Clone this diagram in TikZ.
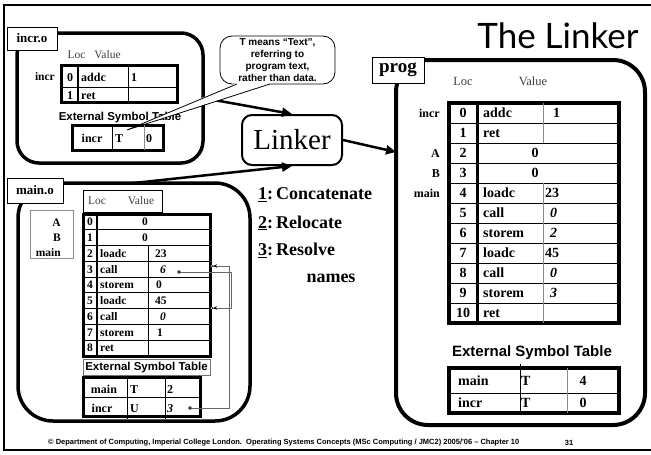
\documentclass[tikz,border=0pt]{standalone}
\usepackage{fontspec}
\setmainfont{Liberation Serif}
\newfontfamily\arialfont{Liberation Sans}
\newfontfamily\titlefont{Lato}
\usetikzlibrary{arrows.meta}

\tikzset{
  frameline/.style={line width=2.2pt},
  container/.style={draw, line width=3.5pt, inner sep=0pt, outer sep=0pt},
  tag/.style={draw, fill=white, line width=0.9pt, inner sep=0pt, outer sep=0pt,
    font=\bfseries\fontsize{13}{13}\selectfont},
  border/.style={line width=3pt},
  divider/.style={line width=2.4pt},
  rule/.style={line width=0.8pt},
  greyrule/.style={line width=0.8pt, draw=black!45},
  small/.style={inner sep=0pt, text height=7.6pt, text depth=0pt, font=\bfseries\fontsize{11.5}{11.5}\selectfont},
  mid/.style={inner sep=0pt, text height=8pt, text depth=0pt, font=\bfseries\fontsize{12}{12}\selectfont},
  big/.style={inner sep=0pt, text height=9.3pt, text depth=0pt, font=\bfseries\fontsize{14}{14}\selectfont},
  hdr/.style={inner sep=0pt, text height=7.6pt, text depth=0pt, text=black!75, font=\fontsize{11.5}{11.5}\selectfont},
  symhdr/.style={inner sep=0pt, font=\arialfont\bfseries\fontsize{#1}{#1}\selectfont},
  flow/.style={line width=2.5pt, arrows={-{Triangle[length=10pt,width=9pt]}}},
  link/.style={line width=0.8pt, draw=black!60,
    arrows={{Circle[fill=white,color=black,length=3.6pt,width=3.6pt,line width=0.7pt]}-{Stealth[length=4pt,width=3.5pt,color=black] Circle[fill=white,color=black,length=3.6pt,width=3.6pt,line width=0.7pt]}}},
  stepline/.style={anchor=west, inner sep=0pt, font=\bfseries\fontsize{18}{18}\selectfont},
  footer/.style={inner sep=0pt, font=\arialfont\bfseries\fontsize{7.5}{7.5}\selectfont},
}

\begin{document}
\begin{tikzpicture}[x=1pt,y=-1pt]
\useasboundingbox (0,0) rectangle (651,455);

% slide frame
\draw[frameline] (651,5) -- (4,5) -- (4,450) -- (651,450);

% title
\node[inner sep=0pt, font=\titlefont\fontsize{35}{35}\selectfont] (title) at (558,36) {The Linker};

% the linker itself
\node[draw, line width=2pt, rounded corners=10pt, minimum width=100pt, minimum height=50pt,
  inner sep=0pt, font=\fontsize{29}{29}\selectfont] (linker) at (292,140) {Linker};

% ---------------- incr.o ----------------
\node[container, rounded corners=22pt, minimum width=186pt, minimum height=130pt] (incro) at (110,98) {};
\node[tag, minimum width=50pt, minimum height=23pt] (incrtag) at (32,38.5) {incr.o};
\node[hdr] (iloc) at (76.5,55) {Loc};
\node[hdr] (ival) at (107.5,55) {Value};
\node[small, anchor=east] (isym) at (55,77) {incr};
\draw[border] (61,65) rectangle (177,102);
\draw[rule] (61,87) -- (177,87);
\draw[rule] (128,65) -- (128,102);
\draw[divider] (78,65) -- (78,102);
\node[mid] (i0n) at (70,77) {0};
\node[mid, anchor=west] (i0o) at (81,77) {addc};
\node[mid, anchor=west] (i0v) at (131,77) {1};
\node[mid] (i1n) at (70,95) {1};
\node[mid, anchor=west] (i1o) at (81,95) {ret};
\node[symhdr=11.5] (iext) at (120,118) {External Symbol Table};

\draw[flow] (incro.east) -- (linker.north);

% callout with its tail
\node[draw, fill=white, rounded corners=12pt, line width=0.8pt, minimum width=115pt, minimum height=48pt,
  inner sep=0pt, align=center, font=\arialfont\bfseries\fontsize{10}{12}\selectfont] (note) at (277.5,60)
  {T means “Text”,\\referring to\\program text,\\rather than data.};
\coordinate (tailtip) at (127,130);
\fill[white] (236,83.2) -- (271,83.2) -- (tailtip) -- cycle;
\draw[line width=0.8pt] (237,84) -- (tailtip) -- (270,84);

\draw[border] (72,125) rectangle (163,150);
\draw[rule] (112,125) -- (112,150);
\draw[greyrule] (144,125) -- (144,150);
\node[mid] (ie1) at (92,138) {incr};
\node[mid, anchor=west] (ie2) at (115,138) {T};
\node[mid, anchor=west] (ie3) at (146,138) {0};

% ---------------- main.o ----------------
\node[container, rounded corners=35pt, minimum width=232pt, minimum height=238pt] (maino) at (134,302) {};
\node[tag, minimum width=56pt, minimum height=25pt] (maintag) at (35,190.5) {main.o};
\draw[flow] (maino.north) -- (linker.south);

\draw[greyrule] (30,210) rectangle (73,258);
\node[small, anchor=east] (mA) at (61,223) {A};
\node[small, anchor=east] (mB) at (61,238) {B};
\node[small, anchor=east] (mmain) at (61,253) {main};

\draw[rule] (83,190) rectangle (162,212);
\node[hdr] (mloc) at (97,201) {Loc};
\node[hdr] (mval) at (141,201) {Value};

\draw[border] (83,214) rectangle (210,356);
\foreach \k in {1,...,8} \draw[rule] (83,{214+15.75*\k}) -- (210,{214+15.75*\k});
\draw[rule] (148,{214+2*15.75}) -- (148,356);
\draw[divider] (97,214) -- (97,356);
\foreach \i in {0,...,8} \node[small] (mn\i) at (90,{222+15.75*\i}) {\i};
\node[small] (mz0) at (145,222) {0};
\node[small] (mz1) at (145,237.75) {0};
\foreach \i/\op in {2/loadc,3/call,4/storem,5/loadc,6/call,7/storem,8/ret}
  \node[small, anchor=west] (mo\i) at (100,{222+15.75*\i}) {\op};
\foreach \i/\v/\x in {2/23/155,3/{\textit{6}}/160,4/0/156,5/45/155,6/{\textit{0}}/160,7/1/157}
  \node[small, anchor=west] (mv\i) at (\x,{222+15.75*\i}) {\v};

\node[symhdr=11.5, draw=black!55, line width=0.8pt, minimum width=127pt, minimum height=16pt] (mext) at (146.5,367.5) {External Symbol Table};
\draw[border] (83,377) rectangle (200,416);
\draw[rule] (83,397.5) -- (200,397.5);
\draw[rule] (127,377) -- (127,419);
\draw[rule] (165,377) -- (165,419);
\node[mid] (ms1) at (104,389) {main};
\node[mid, anchor=west] (ms2) at (130,389) {T};
\node[mid, anchor=west] (ms3) at (167,389) {2};
\node[mid] (ms4) at (102,408) {incr};
\node[mid, anchor=west] (ms5) at (130,408) {U};
\node[mid, anchor=west] (ms6) at (167,408) {\textit{3}};

% chain of unresolved references to incr
\coordinate (six) at (177.2,272);
\coordinate (row6) at (209.5,308);
\coordinate (incru) at (188.2,408);
\coordinate (row3) at (209.5,266);
\draw[link] (six) -- ++(53.8,0) |- (row6);
\draw[link] (incru) -- ++(40.8,0) |- (row3);

% ---------------- the three steps ----------------
\node[stepline] (st1) at (258,195) {\underline{1}:\,Concatenate};
\node[stepline] (st2) at (258,223) {\underline{2}:\,Relocate};
\node[stepline] (st3) at (258,250) {\underline{3}:\,Resolve};
\node[stepline, anchor=center] (st4) at (331,278) {names};

% ---------------- prog ----------------
\node[container, line width=4pt, rounded corners=32pt, minimum width=249pt, minimum height=365pt] (progbox) at (520.5,242.5) {};
\node[tag, minimum width=52pt, minimum height=26pt, font=\bfseries\fontsize{19}{19}\selectfont] (progtag) at (398,70) {prog};
\draw[flow] (linker.east) -- (progbox.144);

\node[hdr, font=\fontsize{12.5}{12.5}\selectfont] (ploc) at (463,82) {Loc};
\node[hdr, font=\fontsize{12.5}{12.5}\selectfont] (pval) at (533,82) {Value};

\draw[border, line width=4pt] (449,103) rectangle (619,323);
\foreach \k in {1,...,10} \draw[rule] (449,{103+20*\k}) -- (619,{103+20*\k});
\draw[greyrule] (543,103) -- (543,143);
\draw[greyrule] (543,183) -- (543,323);
\draw[divider, line width=3pt] (477,103) -- (477,323);
\foreach \i in {0,...,10} \node[big] (pn\i) at (463,{113+20*\i}) {\i};
\foreach \i/\l in {0/incr,2/A,3/B,4/main}
  \node[mid, anchor=east] (pl\i) at (440,{113+20*\i}) {\l};
\foreach \i/\op in {0/addc,1/ret,4/loadc,5/call,6/storem,7/loadc,8/call,9/storem,10/ret}
  \node[big, anchor=west] (po\i) at (483,{113+20*\i}) {\op};
\foreach \i/\v/\x in {0/1/553,4/23/545,5/{\textit{0}}/550,6/{\textit{2}}/550,7/45/545,8/{\textit{0}}/550,9/{\textit{3}}/550}
  \node[big, anchor=west] (pv\i) at (\x,{113+20*\i}) {\v};
\node[big] (pz2) at (535,153) {0};
\node[big] (pz3) at (535,173) {0};

\node[symhdr=15] (pext) at (532,353) {External Symbol Table};
\draw[border, line width=4pt] (449,368) rectangle (619,413);
\draw[rule] (449,393) -- (619,393);
\draw[rule] (520,364) -- (520,413);
\draw[greyrule] (567,368) -- (567,413);
\node[big, anchor=west] (ps1) at (458,381) {main};
\node[big, anchor=west] (ps2) at (521,381) {T};
\node[big] (ps3) at (583,381) {4};
\node[big, anchor=west] (ps4) at (458,403) {incr};
\node[big, anchor=west] (ps5) at (521,403) {T};
\node[big] (ps6) at (583,403) {0};

% ---------------- footer ----------------
\node[footer, anchor=west] (foot) at (48,443)
  {© Department of Computing, Imperial College London.\ \ Operating Systems Concepts (MSc Computing / JMC2) 2005/'06 – Chapter 10};
\node[footer] (pageno) at (569,443) {31};
\end{tikzpicture}
\end{document}
